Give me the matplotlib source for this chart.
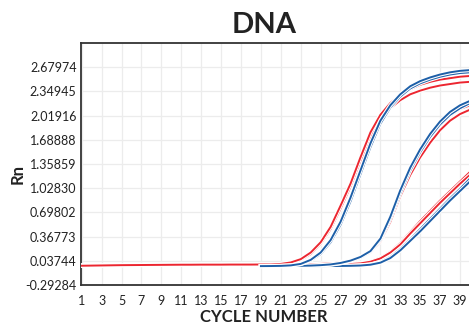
import matplotlib
matplotlib.use("Agg")
import matplotlib.pyplot as plt
import matplotlib.patheffects as pe

plt.rcParams['font.family'] = ['Lato', 'DejaVu Sans']

# cycles
cycles_red = list(range(1, 41))
cycles_blue = list(range(19, 41))

# shared baseline of the red curves, cycles 1-20
red_base = [-0.030, -0.028, -0.026, -0.024, -0.022, -0.021, -0.020, -0.019, -0.018, -0.017,
            -0.016, -0.016, -0.015, -0.015, -0.015, -0.014, -0.014, -0.014, -0.013, -0.013]

# red curves, cycles 21-40
red_g1a = [-0.005, 0.015, 0.06, 0.15, 0.29, 0.50, 0.79, 1.09, 1.45, 1.79,
           2.03, 2.19, 2.30, 2.38, 2.44, 2.48, 2.51, 2.53, 2.55, 2.56]
red_g1b = [-0.007, 0.01, 0.05, 0.13, 0.27, 0.47, 0.75, 1.05, 1.40, 1.73,
           1.96, 2.12, 2.23, 2.31, 2.36, 2.40, 2.43, 2.45, 2.47, 2.48]
red_g2a = [-0.012, -0.011, -0.010, -0.008, -0.004, 0.004, 0.02, 0.045, 0.085, 0.16,
           0.32, 0.61, 0.97, 1.27, 1.52, 1.73, 1.89, 2.02, 2.11, 2.16]
red_g2b = [-0.012, -0.011, -0.010, -0.008, -0.005, 0.002, 0.016, 0.04, 0.078, 0.15,
           0.30, 0.57, 0.92, 1.21, 1.45, 1.65, 1.82, 1.95, 2.04, 2.10]
red_g3a = [-0.013, -0.013, -0.012, -0.012, -0.011, -0.010, -0.008, -0.005, 0.005, 0.03,
           0.08, 0.16, 0.28, 0.43, 0.58, 0.72, 0.86, 0.99, 1.12, 1.25]
red_g3b = [-0.013, -0.013, -0.012, -0.012, -0.011, -0.010, -0.009, -0.006, 0.002, 0.025,
           0.07, 0.15, 0.26, 0.41, 0.55, 0.69, 0.83, 0.96, 1.09, 1.21]

# blue curves, cycles 19-40
blue_g1a = [-0.035, -0.034, -0.032, -0.025, -0.005, 0.05, 0.15, 0.32, 0.57, 0.90, 1.27,
            1.64, 1.95, 2.16, 2.31, 2.42, 2.49, 2.54, 2.58, 2.61, 2.63, 2.64]
blue_g1b = [-0.035, -0.034, -0.033, -0.027, -0.008, 0.04, 0.13, 0.29, 0.53, 0.85, 1.22,
            1.59, 1.91, 2.13, 2.28, 2.39, 2.46, 2.51, 2.55, 2.58, 2.60, 2.61]
blue_g2a = [-0.035, -0.035, -0.034, -0.033, -0.031, -0.028, -0.022, -0.012, 0.008, 0.04, 0.09,
            0.17, 0.34, 0.64, 1.00, 1.31, 1.56, 1.77, 1.94, 2.07, 2.16, 2.22]
blue_g2b = [-0.035, -0.035, -0.034, -0.033, -0.031, -0.029, -0.024, -0.015, 0.003, 0.035, 0.08,
            0.16, 0.32, 0.61, 0.96, 1.27, 1.52, 1.73, 1.90, 2.03, 2.12, 2.19]
blue_g3a = [-0.035, -0.035, -0.035, -0.035, -0.035, -0.035, -0.034, -0.033, -0.032, -0.030, -0.025,
            -0.012, 0.02, 0.09, 0.20, 0.33, 0.47, 0.61, 0.75, 0.89, 1.02, 1.16]
blue_g3b = [-0.036, -0.036, -0.036, -0.036, -0.036, -0.036, -0.035, -0.034, -0.033, -0.031, -0.027,
            -0.016, 0.012, 0.075, 0.18, 0.31, 0.44, 0.58, 0.72, 0.86, 0.99, 1.12]

red_curves = [red_g3a, red_g3b, red_g2a, red_g2b, red_g1b, red_g1a]
blue_curves = [blue_g3a, blue_g3b, blue_g2b, blue_g2a, blue_g1b, blue_g1a]

y_ticks = [-0.29284, 0.03744, 0.36773, 0.69802, 1.02830, 1.35859,
           1.68888, 2.01916, 2.34945, 2.67974]
x_ticks = list(range(1, 40, 2))

RED = '#ec2630'
BLUE = '#1d5fa8'

fig = plt.figure(figsize=(4.69, 3.24), dpi=100)
ax = fig.add_axes([80.7 / 469, 39 / 324, (470.0 - 80.7) / 469, 242 / 324])

outline = [pe.Stroke(linewidth=3.0, foreground='white'), pe.Normal()]
for vals in red_curves:
    ax.plot(cycles_red, red_base + vals, color=RED, lw=1.4, path_effects=outline,
            solid_joinstyle='round', zorder=3)
for vals in blue_curves:
    ax.plot(cycles_blue, vals, color=BLUE, lw=1.4, path_effects=outline,
            solid_joinstyle='round', zorder=3)

ax.set_xlim(0.9, 40)
ax.set_ylim(-0.29284, 3.0100)
ax.set_xticks(x_ticks)
ax.set_xticklabels([str(x) for x in x_ticks])
ax.set_yticks(y_ticks)
ax.set_yticklabels(['%.5f' % v for v in y_ticks])
ax.tick_params(axis='both', length=0, labelsize=9, colors='#222222')
ax.tick_params(axis='x', pad=7)
ax.tick_params(axis='y', pad=3)
ax.grid(True, color='#ececec', lw=0.9)
ax.set_axisbelow(True)

for side in ['left', 'bottom', 'top']:
    ax.spines[side].set_color('#333333')
    ax.spines[side].set_linewidth(1.3)
ax.spines['right'].set_visible(False)

fig.text(264 / 469, 1 - 25 / 324, 'DNA', ha='center', va='center',
         fontsize=21, fontweight='bold', color='#222222')
fig.text(264 / 469, 1 - 317 / 324, 'CYCLE NUMBER', ha='center', va='center',
         fontsize=12, fontweight='bold', color='#222222')
fig.text(18 / 469, 1 - 174 / 324, 'Rn', ha='center', va='center', rotation=90,
         fontsize=12, fontweight='bold', color='#222222')

fig.savefig('out.png', dpi=100)
